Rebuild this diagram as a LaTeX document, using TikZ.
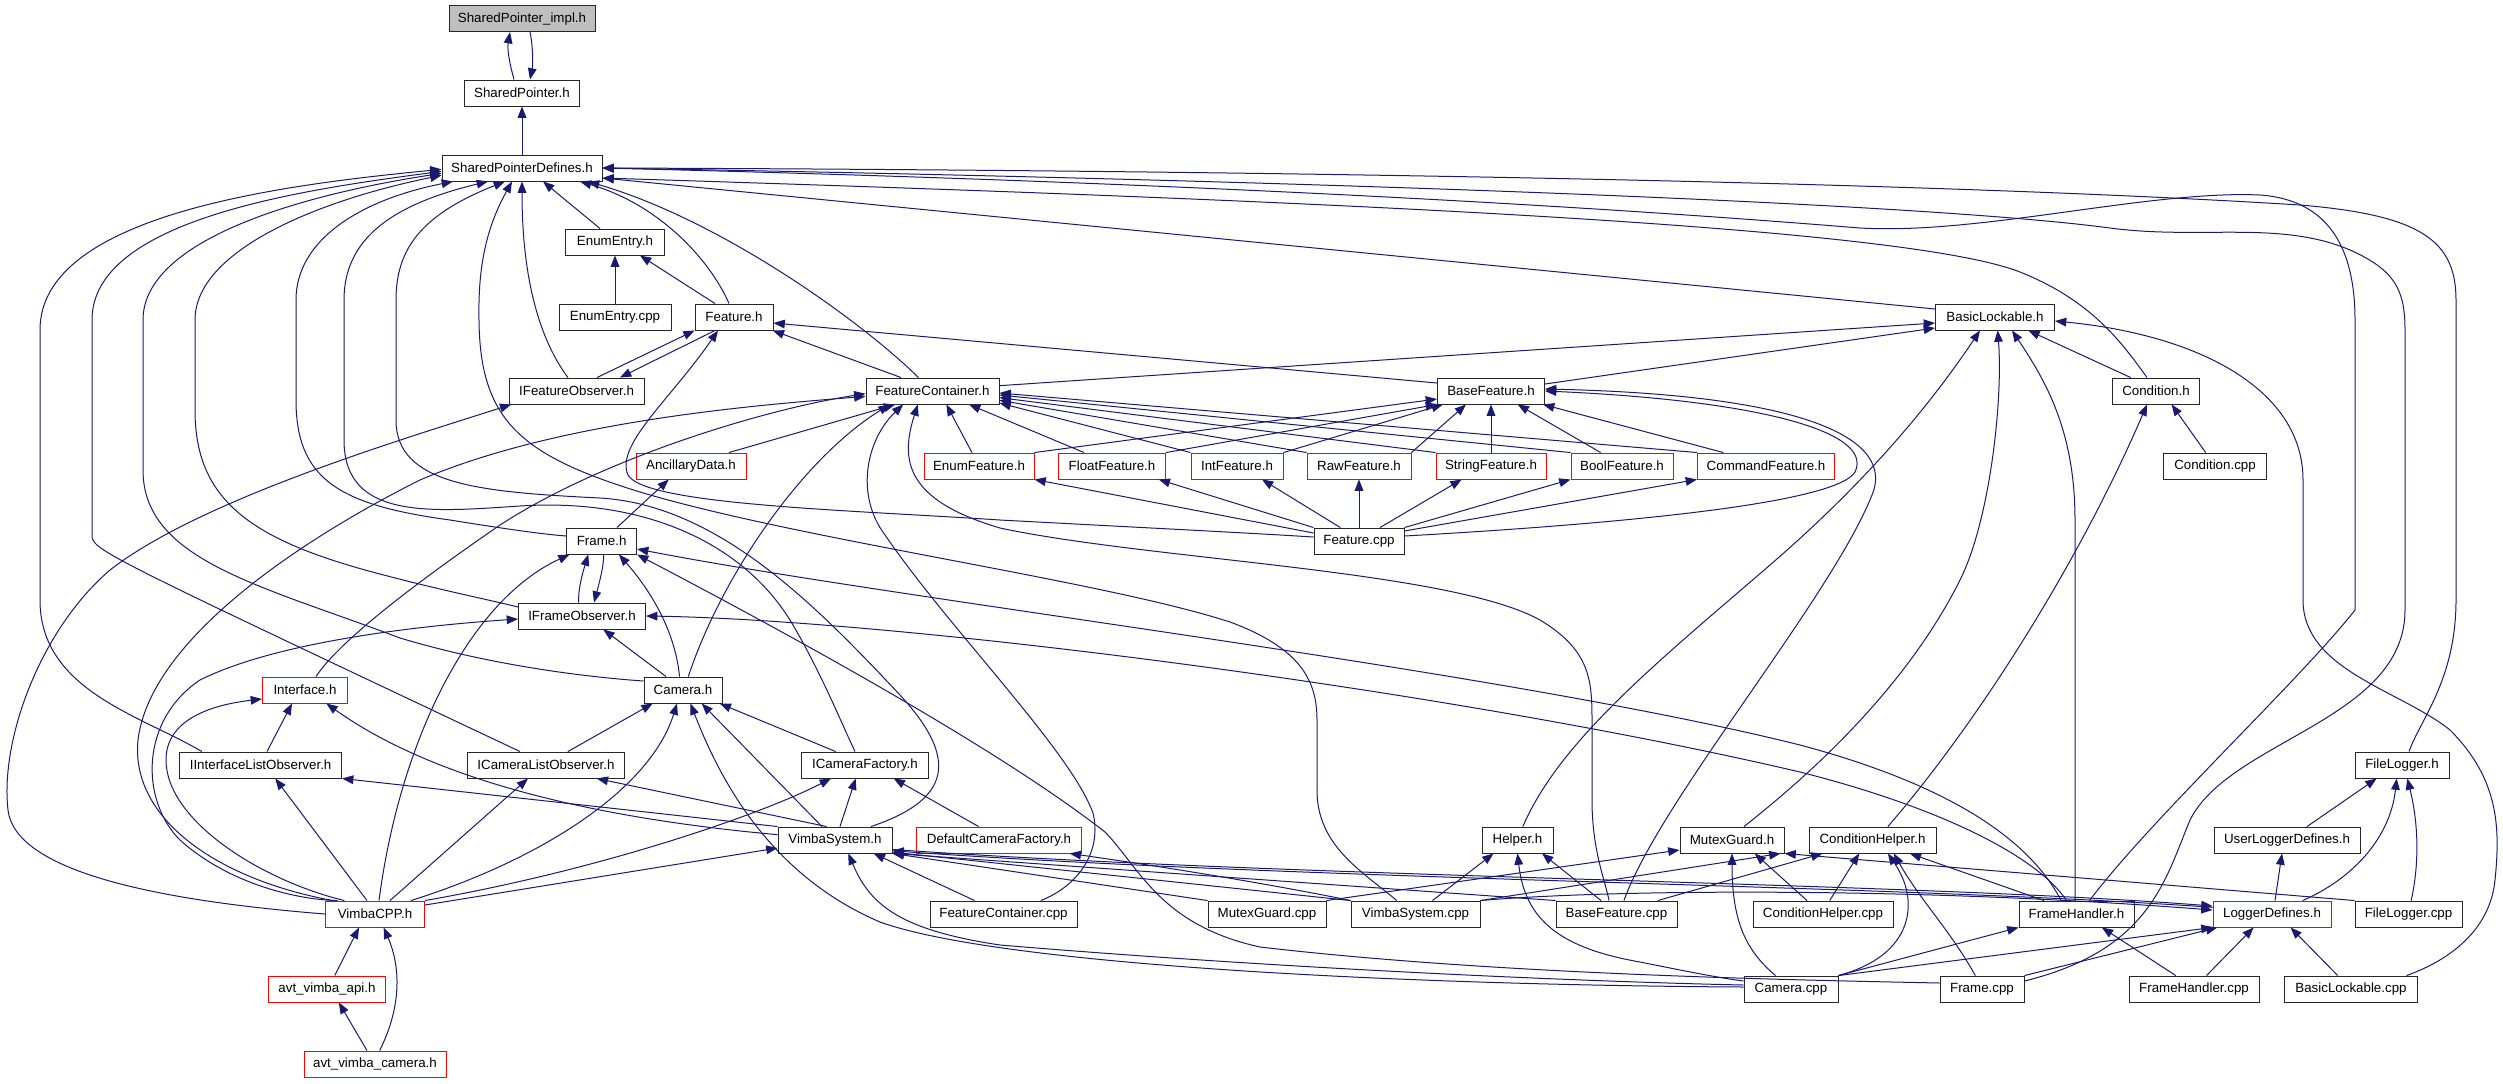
\documentclass[tikz,border=0pt]{standalone}
\usepackage{fontspec}
\setmainfont{Liberation Sans}
\usetikzlibrary{arrows.meta,calc}
\definecolor{Edge}{HTML}{191970}
\definecolor{Hit}{HTML}{BFBFBF}

\tikzset{
  file/.style={draw=black!85, line width=0.7pt, fill=white, minimum height=19.5pt,
    inner xsep=2pt, inner ysep=0pt, font=\fontsize{10}{12}\selectfont},
  part/.style={file, draw=red},
  self/.style={file, fill=Hit},
  w/.style={minimum width=#1*0.75pt},
  inc/.style={Edge, line width=0.75pt, {Triangle[length=8.5pt,width=6.5pt]}-},
}

\begin{document}
\begin{tikzpicture}[x=0.75pt, y=-0.75pt]
\useasboundingbox (0,0) rectangle (2503,1083);

% files, row by row
\node[self, w=146] (spimpl) at (522,18.6) {SharedPointer\_impl.h};
\node[file, w=115] (sp) at (522,93) {SharedPointer.h};
\node[file, w=160] (spd) at (522,168) {SharedPointerDefines.h};
\node[file, w=99] (enumh) at (615,242) {EnumEntry.h};
\node[file, w=112] (enumcpp) at (615,317) {EnumEntry.cpp};
\node[file, w=78] (feath) at (734,317) {Feature.h};
\node[file, w=119] (basiclock) at (1995,317) {BasicLockable.h};
\node[file, w=135] (ifeatobs) at (576.6,391) {IFeatureObserver.h};
\node[file, w=133] (featcont) at (932.5,391) {FeatureContainer.h};
\node[file, w=107] (basefeat) at (1491,391) {BaseFeature.h};
\node[file, w=87] (cond) at (2156,391) {Condition.h};
\node[part, w=110] (ancil) at (691,466) {AncillaryData.h};
\node[part, w=110] (enumfeat) at (979,466) {EnumFeature.h};
\node[part, w=107] (floatfeat) at (1112,466) {FloatFeature.h};
\node[part, w=92] (intfeat) at (1237,466) {IntFeature.h};
\node[part, w=104] (rawfeat) at (1359,466) {RawFeature.h};
\node[part, w=110] (strfeat) at (1491,466) {StringFeature.h};
\node[part, w=102] (boolfeat) at (1622,466) {BoolFeature.h};
\node[part, w=137] (cmdfeat) at (1766,466) {CommandFeature.h};
\node[file, w=103] (condcpp) at (2215,466) {Condition.cpp};
\node[file, w=70] (frameh) at (601.6,541) {Frame.h};
\node[file, w=90] (featcpp) at (1359,541) {Feature.cpp};
\node[file, w=127] (ifrobs) at (582,616) {IFrameObserver.h};
\node[part, w=85] (iface) at (305,690) {Interface.h};
\node[file, w=78] (camh) at (683,690) {Camera.h};
\node[file, w=162] (iifl) at (260.6,765) {IInterfaceListObserver.h};
\node[file, w=157] (icaml) at (546,765) {ICameraListObserver.h};
\node[file, w=127] (icamf) at (865,765) {ICameraFactory.h};
\node[file, w=94] (filelog) at (2402,765) {FileLogger.h};
\node[file, w=114] (vsys) at (835,840) {VimbaSystem.h};
\node[part, w=165] (defcf) at (999,840) {DefaultCameraFactory.h};
\node[file, w=71] (helper) at (1517.5,840) {Helper.h};
\node[file, w=104] (mguard) at (1732,840) {MutexGuard.h};
\node[file, w=127] (condhelp) at (1872.5,840) {ConditionHelper.h};
\node[file, w=146] (ulog) at (2287,840) {UserLoggerDefines.h};
\node[part, w=99] (vcpp) at (375,914) {VimbaCPP.h};
\node[file, w=147] (fccpp) at (1003.5,914) {FeatureContainer.cpp};
\node[file, w=118] (mgcpp) at (1267,914) {MutexGuard.cpp};
\node[file, w=129] (vscpp) at (1415.5,914) {VimbaSystem.cpp};
\node[file, w=121] (bfcpp) at (1616.5,914) {BaseFeature.cpp};
\node[file, w=140] (chcpp) at (1823,914) {ConditionHelper.cpp};
\node[file, w=115] (fhh) at (2076.5,914) {FrameHandler.h};
\node[part, w=118] (logdef) at (2272,914) {LoggerDefines.h};
\node[file, w=107] (flcpp) at (2408.5,914) {FileLogger.cpp};
\node[part, w=117] (api) at (327,989) {avt\_vimba\_api.h};
\node[file, w=94] (camcpp) at (1791,989) {Camera.cpp};
\node[file, w=84] (framecpp) at (1982,989) {Frame.cpp};
\node[file, w=130] (fhcpp) at (2194,989) {FrameHandler.cpp};
\node[file, w=133] (blcpp) at (2351,989) {BasicLockable.cpp};
\node[part, w=142] (avcam) at (375,1064) {avt\_vimba\_camera.h};

% shared pointer chain
\draw[inc] ([xshift=-9pt]spimpl.south) .. controls (507,50) and (510,65) .. ([xshift=-6pt]sp.north);
\draw[inc] ([xshift=6pt]sp.north) .. controls (533,65) and (533,45) .. ([xshift=6pt]spimpl.south);
\draw[inc] (sp.south) -- (spd.north);

% into SharedPointerDefines.h
\draw[inc] ([yshift=-1pt]spd.west) .. controls (280,185) and (40,215) .. (40,330) -- (40,600) .. controls (40,690) and (140,715) .. ([xshift=-44pt]iifl.north);
\draw[inc] ([yshift=-2.5pt]spd.west) .. controls (300,190) and (92,220) .. (92,320) -- (92,535) .. controls (92,550) and (100,553) .. ([xshift=-19.5pt]icaml.north);
\draw[inc] ([yshift=-4pt]spd.west) .. controls (300,195) and (143,240) .. (143,320) -- (143,470) .. controls (143,560) and (260,585) .. (400,638) .. controls (500,668) and (600,678) .. ([yshift=6.75pt]camh.west);
\draw[inc] ([yshift=-5.5pt]spd.west) .. controls (320,200) and (195,250) .. (195,320) -- (195,410) .. controls (195,500) and (250,540) .. (380,574) .. controls (440,590) and (490,600) .. ([yshift=6.75pt]ifrobs.west);
\draw[inc] ([xshift=-51.75pt]spd.south) .. controls (360,200) and (296,240) .. (296,300) -- (296,400) .. controls (296,480) and (340,505) .. (450,520) .. controls (500,528) and (540,534) .. ([yshift=3.75pt]frameh.west);
\draw[inc] ([xshift=-25.5pt]spd.south) .. controls (390,205) and (344,240) .. (344,300) -- (344,440) .. controls (344,520) and (430,512) .. (520,506) .. controls (640,498) and (740,540) .. (790,620) .. controls (820,670) and (840,720) .. ([xshift=-7.5pt]icamf.north);
\draw[inc] ([xshift=-12.75pt]spd.south) .. controls (420,215) and (396,250) .. (396,300) -- (396,420) .. controls (396,485) and (480,492) .. (600,498) .. controls (720,505) and (820,610) .. (900,695) .. controls (960,760) and (950,800) .. ([xshift=27pt]vsys.north);
\draw[inc] ([xshift=-7.5pt]spd.south) .. controls (485,230) and (478,270) .. (479,320) .. controls (480,420) and (520,455) .. (640,492) .. controls (800,540) and (1100,580) .. (1230,622) .. controls (1300,648) and (1317,680) .. (1317,720) -- (1317,790) .. controls (1317,845) and (1360,870) .. ([xshift=-14pt]vscpp.north);
\draw[inc] (spd.south) .. controls (522,280) and (540,340) .. ([xshift=-6.5pt]ifeatobs.north);
\draw[inc] ([xshift=15.75pt]spd.south) -- ([xshift=-11.25pt]enumh.north);
\draw[inc] ([xshift=43.5pt]spd.south) .. controls (660,205) and (710,260) .. ([xshift=-3.75pt]feath.north);
\draw[inc] ([xshift=49.5pt]spd.south) .. controls (720,220) and (860,320) .. ([xshift=-10.5pt]featcont.north);
\draw[inc] ([yshift=-7.5pt]spd.east) -- ([yshift=6pt]basiclock.west);
\draw[inc] (spd.east) .. controls (1200,170) and (1900,180) .. (2300,205) .. controls (2420,215) and (2456,240) .. (2456,300) -- (2456,600) .. controls (2456,680) and (2420,720) .. ([xshift=5.25pt]filelog.north);
\draw[inc] (spd.east) .. controls (1200,178) and (1900,200) .. (2110,228) .. controls (2200,240) and (2280,220) .. (2350,250) .. controls (2395,270) and (2405,290) .. (2405,330) -- (2405,610) .. controls (2405,720) and (2230,740) .. (2190,820) .. controls (2165,880) and (2150,950) .. ([yshift=6pt]framecpp.east);
\draw[inc] (spd.east) .. controls (1300,185) and (1700,215) .. (1860,228) .. controls (1980,235) and (2150,190) .. (2260,195) .. controls (2330,200) and (2355,250) .. (2355,320) -- (2355,610) .. controls (2300,680) and (2150,820) .. ([xshift=9.75pt]fhh.north);
\draw[inc] ([yshift=-7.5pt]spd.east) .. controls (1300,200) and (1900,225) .. (2020,272) .. controls (2090,300) and (2120,340) .. ([xshift=-6.75pt]cond.north);

% enum entry and feature
\draw[inc] (enumh.south) -- (enumcpp.north);
\draw[inc] ([xshift=18.75pt]enumh.south) -- ([xshift=-14.25pt]feath.north);
\draw[inc] ([xshift=-29.5pt]feath.south) -- ([xshift=15.3pt]ifeatobs.north);
\draw[inc] ([xshift=32.5pt]ifeatobs.north) -- ([xshift=-14.25pt]feath.south);
\draw[inc] ([xshift=29pt]feath.south) -- ([xshift=-23.6pt]featcont.north);
\draw[inc] ([xshift=-12pt]feath.south) .. controls (670,400) and (615,445) .. (628,475) .. controls (645,505) and (850,510) .. (1000,520) .. controls (1150,528) and (1250,533) .. ([yshift=3pt]featcpp.west);
\draw[inc] ([yshift=-4.5pt]feath.east) -- ([yshift=6pt]basefeat.west);
\draw[inc] ([xshift=-49pt]ifeatobs.south) .. controls (400,440) and (200,500) .. (110,570) .. controls (40,630) and (0,740) .. (8,810) .. controls (15,870) and (150,900) .. (vcpp.west);

% feature container
\draw[inc] ([yshift=-2pt]featcont.west) .. controls (760,410) and (600,460) .. (500,525) .. controls (420,580) and (340,640) .. ([xshift=8.25pt]iface.north);
\draw[inc] ([yshift=-4pt]featcont.west) .. controls (760,405) and (560,420) .. (420,480) .. controls (300,540) and (150,640) .. (138,740) .. controls (130,820) and (220,880) .. ([xshift=-31.5pt]vcpp.north);
\draw[inc] ([xshift=-32pt]featcont.south) .. controls (800,460) and (720,580) .. ([xshift=4pt]camh.north);
\draw[inc] ([xshift=-28pt]featcont.south) -- ([xshift=28.5pt]ancil.north);
\draw[inc] ([xshift=-16.7pt]ancil.south) -- ([xshift=11.5pt]frameh.north);
\draw[inc] ([xshift=10.4pt]featcont.south) -- ([xshift=-5.3pt]enumfeat.north);
\draw[inc] ([xshift=27.4pt]featcont.south) -- ([xshift=-21pt]floatfeat.north);
\draw[inc] ([yshift=-9pt]featcont.east) -- (intfeat.north west);
\draw[inc] ([yshift=-7pt]featcont.east) -- (rawfeat.north west);
\draw[inc] ([yshift=-5pt]featcont.east) -- (strfeat.north west);
\draw[inc] ([yshift=-3pt]featcont.east) -- (boolfeat.north west);
\draw[inc] ([yshift=-1.5pt]featcont.east) -- (cmdfeat.north west);
\draw[inc] ([xshift=-22pt]featcont.south) .. controls (866,440) and (855,495) .. (885,535) .. controls (950,630) and (1070,750) .. (1093,813) .. controls (1102,850) and (1080,885) .. ([xshift=28pt]fccpp.north);
\draw[inc] ([xshift=-11pt]featcont.south) .. controls (900,460) and (905,500) .. (1000,528) .. controls (1150,560) and (1450,570) .. (1540,620) .. controls (1590,650) and (1592,680) .. (1592,720) -- (1592,800) .. controls (1592,850) and (1605,880) .. ([xshift=-5.6pt]bfcpp.north);
\draw[inc] ([yshift=-4.5pt]basiclock.west) -- ([yshift=4pt]featcont.east);

% base feature and its kinds
\draw[inc] ([yshift=-6pt]basefeat.west) -- (enumfeat.north east);
\draw[inc] (basefeat.south west) -- (floatfeat.north east);
\draw[inc] ([xshift=-36pt]basefeat.south) -- (intfeat.north east);
\draw[inc] ([xshift=-18.75pt]basefeat.south) -- (rawfeat.north east);
\draw[inc] (basefeat.south) -- (strfeat.north);
\draw[inc] ([xshift=20pt]basefeat.south) -- ([xshift=-16pt]boolfeat.north);
\draw[inc] ([xshift=39pt]basefeat.south) -- ([xshift=-32pt]cmdfeat.north);
\draw[inc] ([yshift=-8.25pt]basiclock.west) -- ([yshift=5.25pt]basefeat.east);
\draw[inc] (basefeat.east) .. controls (1750,400) and (1875,430) .. (1855,472) .. controls (1835,505) and (1600,525) .. ([yshift=3.75pt]featcpp.east);
\draw[inc] ([yshift=1.5pt]basefeat.east) .. controls (1810,395) and (1895,440) .. (1872,495) .. controls (1830,600) and (1660,800) .. ([xshift=5.6pt]bfcpp.north);

% feature.cpp
\draw[inc] (enumfeat.south east) -- ([yshift=6pt]featcpp.west);
\draw[inc] ([xshift=35pt]floatfeat.south) -- (featcpp.north west);
\draw[inc] ([xshift=18.75pt]intfeat.south) -- ([xshift=-14pt]featcpp.north);
\draw[inc] (rawfeat.south) -- (featcpp.north);
\draw[inc] ([xshift=-22pt]strfeat.south) -- ([xshift=15.75pt]featcpp.north);
\draw[inc] (boolfeat.south west) -- (featcpp.north east);
\draw[inc] (cmdfeat.south west) -- ([yshift=7.5pt]featcpp.east);

% frame and observers
\draw[inc] ([xshift=-10pt]frameh.south) .. controls (582,575) and (578,590) .. ([xshift=-2.5pt]ifrobs.north);
\draw[inc] ([xshift=9pt]ifrobs.north) .. controls (600,580) and (604,565) .. ([xshift=1.5pt]frameh.south);
\draw[inc] ([xshift=16pt]ifrobs.south) -- ([xshift=-12.75pt]camh.north);
\draw[inc] ([xshift=13pt]frameh.south) .. controls (650,590) and (675,630) .. ([xshift=-2.6pt]camh.north);
\draw[inc] ([xshift=-24pt]frameh.south) .. controls (470,600) and (400,740) .. ([xshift=3pt]vcpp.north);
\draw[inc] ([yshift=-2.25pt]ifrobs.west) .. controls (430,625) and (280,640) .. (200,680) .. controls (140,720) and (140,800) .. (180,840) .. controls (230,885) and (300,900) .. ([xshift=-28pt]vcpp.north);
\draw[inc] ([yshift=-6pt]frameh.east) .. controls (900,600) and (1500,670) .. (1800,745) .. controls (1950,785) and (2030,840) .. ([xshift=-11.6pt]fhh.north);
\draw[inc] (ifrobs.east) .. controls (900,620) and (1450,690) .. (1800,772) .. controls (1950,810) and (2040,860) .. ([xshift=-7.5pt]fhh.north);
\draw[inc] (frameh.south east) .. controls (800,640) and (1000,750) .. (1105,832) .. controls (1140,868) and (1160,925) .. (1260,947) .. controls (1500,975) and (1800,980) .. ([yshift=4.5pt]framecpp.west);

% interface, camera, system
\draw[inc] ([yshift=-6.75pt]iface.west) .. controls (210,705) and (166,720) .. (166,760) .. controls (166,820) and (260,880) .. ([xshift=-23pt]vcpp.north);
\draw[inc] ([xshift=-9.75pt]iface.south) -- ([xshift=4.8pt]iifl.north);
\draw[inc] ([xshift=16pt]iface.south) .. controls (420,770) and (560,815) .. ([yshift=4pt]vsys.west);
\draw[inc] ([xshift=11pt]iifl.south) -- ([xshift=-6pt]vcpp.north);
\draw[inc] (iifl.south east) -- (vsys.north west);
\draw[inc] ([xshift=-13.5pt]icaml.south) -- ([xshift=11.25pt]vcpp.north);
\draw[inc] ([xshift=38pt]icaml.south) -- ([xshift=-6.3pt]vsys.north);
\draw[inc] ([xshift=-22.7pt]camh.south) -- ([xshift=16.4pt]icaml.north);
\draw[inc] ([xshift=-4.5pt]camh.south) .. controls (650,790) and (540,860) .. ([xshift=27pt]vcpp.north);
\draw[inc] ([xshift=14pt]camh.south) -- ([xshift=-9.75pt]vsys.north);
\draw[inc] ([xshift=27.5pt]camh.south) -- ([xshift=-22pt]icamf.north);
\draw[inc] ([xshift=5.6pt]camh.south) .. controls (720,780) and (770,875) .. (880,922) .. controls (1000,965) and (1400,985) .. ([yshift=1.5pt]camcpp.west);
\draw[inc] ([xshift=-25.5pt]icamf.south) .. controls (760,815) and (600,870) .. (vcpp.north east);
\draw[inc] ([xshift=-7pt]icamf.south) -- ([xshift=3.75pt]vsys.north);
\draw[inc] ([xshift=21.5pt]icamf.south) -- ([xshift=-15.3pt]defcf.north);
\draw[inc] ([yshift=-6pt]vsys.west) -- ([yshift=6.75pt]vcpp.east);
\draw[inc] ([xshift=10pt]vsys.south) .. controls (870,905) and (900,930) .. (1000,945) .. controls (1300,970) and (1600,982) .. ([yshift=3pt]camcpp.west);
\draw[inc] ([xshift=53pt]defcf.south) .. controls (1200,872) and (1300,890) .. (vscpp.north west);

% VimbaCPP.h and the headers on top of it
\draw[inc] ([xshift=-12pt]vcpp.south) -- ([xshift=5.8pt]api.north);
\draw[inc] ([xshift=6.5pt]vcpp.south) .. controls (402,970) and (400,1010) .. ([xshift=3.5pt]avcam.north);
\draw[inc] ([xshift=8.85pt]api.south) -- ([xshift=-6pt]avcam.north);

% sources that include VimbaSystem.h
\draw[inc] ([xshift=29pt]vsys.south) -- ([xshift=-21.7pt]fccpp.north);
\draw[inc] (vsys.south east) -- (mgcpp.north west);
\draw[inc] ([yshift=1pt]vsys.south east) -- (vscpp.north west);
\draw[inc] (vsys.south east) -- (bfcpp.north west);
\draw[inc] ([yshift=2pt]vsys.south east) .. controls (1300,880) and (1900,885) .. ([yshift=5pt]logdef.west);
\draw[inc] ([yshift=6pt]logdef.west) .. controls (1900,882) and (1300,878) .. ([yshift=3pt]vsys.south east);
\draw[inc] ([yshift=3pt]logdef.west) .. controls (1900,886) and (1600,890) .. (vscpp.north east);

% locking helpers
\draw[inc] ([xshift=-11.25pt]basiclock.south) .. controls (1940,390) and (1880,470) .. (1770,565) .. controls (1660,660) and (1560,740) .. ([xshift=4pt]helper.north);
\draw[inc] ([xshift=2pt]basiclock.south) .. controls (2003,400) and (1990,520) .. (1960,580) .. controls (1900,700) and (1790,790) .. ([xshift=9pt]mguard.north);
\draw[inc] ([xshift=12.75pt]basiclock.south) .. controls (2045,380) and (2075,430) .. (2075,520) -- ([xshift=-1pt]fhh.north);
\draw[inc] ([xshift=25pt]basiclock.south) -- ([xshift=-19pt]cond.north);
\draw[inc] ([yshift=-3pt]basiclock.east) .. controls (2200,335) and (2303,390) .. (2303,480) -- (2303,600) .. controls (2303,670) and (2400,690) .. (2450,730) .. controls (2500,780) and (2500,830) .. (2495,880) .. controls (2490,930) and (2450,960) .. ([xshift=41.6pt]blcpp.north);
\draw[inc] ([xshift=11.7pt]cond.south) -- ([xshift=-7pt]condcpp.north);
\draw[inc] ([xshift=-6.75pt]cond.south) .. controls (2080,560) and (1980,720) .. ([xshift=11.5pt]condhelp.north);
\draw[inc] ([xshift=-37.5pt]condhelp.south) -- ([xshift=31pt]bfcpp.north);
\draw[inc] ([xshift=-10pt]condhelp.south) -- ([xshift=5pt]chcpp.north);
\draw[inc] ([xshift=11.5pt]condhelp.south) .. controls (1920,900) and (1915,955) .. (camcpp.north east);
\draw[inc] ([xshift=16pt]condhelp.south) .. controls (1920,900) and (1950,930) .. ([xshift=-5pt]framecpp.north);
\draw[inc] ([xshift=28pt]condhelp.south) -- ([xshift=-24.4pt]fhh.north);
\draw[inc] ([yshift=-7.5pt]mguard.west) -- (mgcpp.north east);
\draw[inc] (mguard.south) .. controls (1732,920) and (1745,950) .. ([xshift=-11.6pt]camcpp.north);
\draw[inc] ([xshift=17pt]mguard.south) -- ([xshift=-12pt]chcpp.north);
\draw[inc] ([xshift=-3pt]mguard.south east) -- (vscpp.north east);
\draw[inc] (mguard.south east) -- (flcpp.north west);
\draw[inc] ([xshift=-18pt]helper.south) -- ([xshift=12.75pt]vscpp.north);
\draw[inc] ([xshift=18.4pt]helper.south) -- ([xshift=-11.6pt]bfcpp.north);
\draw[inc] (helper.south) .. controls (1525,920) and (1560,948) .. (1640,962) .. controls (1690,972) and (1720,978) .. ([yshift=6pt]camcpp.west);

% logging
\draw[inc] ([xshift=-19pt]filelog.south) -- ([xshift=15pt]ulog.north);
\draw[inc] ([xshift=-4pt]filelog.south) .. controls (2390,840) and (2350,880) .. ([xshift=23pt]logdef.north);
\draw[inc] ([xshift=4pt]filelog.south) .. controls (2420,830) and (2418,870) .. ([xshift=2pt]flcpp.north);
\draw[inc] ([xshift=-3.75pt]ulog.south) -- ([xshift=2.25pt]logdef.north);
\draw[inc] (logdef.south west) -- (camcpp.north east);
\draw[inc] ([xshift=-41pt]logdef.south) -- (framecpp.north east);
\draw[inc] ([xshift=-13.8pt]logdef.south) -- ([xshift=9.4pt]fhcpp.north);
\draw[inc] ([xshift=13.9pt]logdef.south) -- ([xshift=-10pt]blcpp.north);
\draw[inc] ([xshift=19pt]fhh.south) -- ([xshift=-13.7pt]fhcpp.north);
\draw[inc] (fhh.south west) -- (camcpp.north east);
\end{tikzpicture}
\end{document}
